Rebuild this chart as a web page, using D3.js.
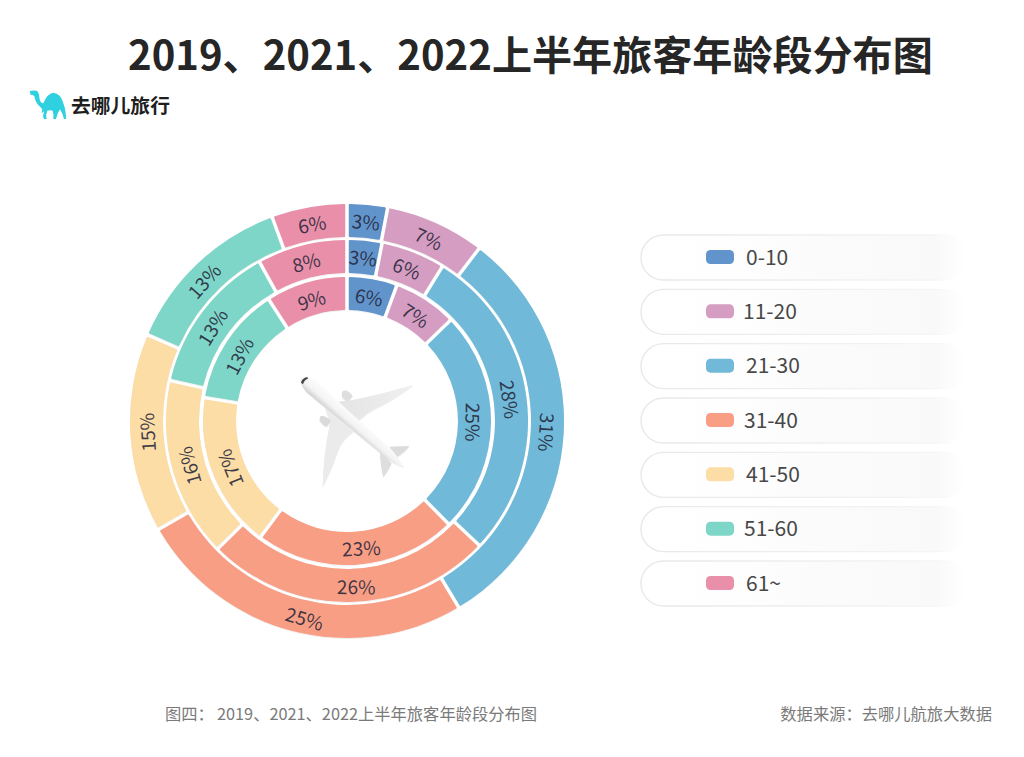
<!DOCTYPE html>
<html><head><meta charset="utf-8">
<script src="https://cdn.jsdelivr.net/npm/d3@7/dist/d3.min.js"></script>
<style>html,body{margin:0;padding:0;background:#fff}svg{display:block}text{font-family:"Noto Sans CJK SC","Noto Sans",sans-serif}</style>
</head><body><svg id="c" width="1024" height="757" viewBox="0 0 1024 757"></svg>
<script>
const categories = ["0-10","11-20","21-30","31-40","41-50","51-60","61~"];
const outerRingValues  = [3.0,7.4,31.0,25.3,14.8,12.9,5.6];
const middleRingValues = [3.1,5.7,28.2,25.6,16.0,13.4,8.0];
const innerRingValues  = [5.6,7.1,24.9,22.6,17.4,13.3,9.1];
const colors = ["#6094cb","#d69dc2","#70b9d8","#f89e85","#fcdda6","#7ed6c8","#e98fa9"];
const titleText = "2019、2021、2022上半年旅客年龄段分布图";
const captionLead = "图四：";
const captionText = "2019、2021、2022上半年旅客年龄段分布图";
const sourceText = "数据来源：去哪儿航旅大数据";
const logoText = "去哪儿旅行";

const svg = d3.select("#c");
const defs = svg.append("defs");

// ---- defs
const f = defs.append("filter").attr("id","edge").attr("x","-20%").attr("y","-20%").attr("width","140%").attr("height","140%");
f.append("feDropShadow").attr("dx",0).attr("dy",0.4).attr("stdDeviation",0.7).attr("flood-color","#000").attr("flood-opacity",0.16);
const sf = defs.append("filter").attr("id","soft").attr("x","-10%").attr("y","-10%").attr("width","120%").attr("height","120%");
sf.append("feDropShadow").attr("dx",0).attr("dy",1.5).attr("stdDeviation",1.5).attr("flood-color","#000").attr("flood-opacity",0.18);
const pf = defs.append("linearGradient").attr("id","pillFill");
[[0,"#fff"],[0.3,"#fefefe"],[0.55,"#fbfbfb"],[0.9,"#f9f9f9"],[1,"#fff"]].forEach(s=>pf.append("stop").attr("offset",s[0]).attr("stop-color",s[1]));
const ps = defs.append("linearGradient").attr("id","pillStroke");
[[0,"#e8e8e8",1],[0.6,"#f0f0f0",1],[0.9,"#f5f5f5",1],[1,"#fff",0]].forEach(s=>ps.append("stop").attr("offset",s[0]).attr("stop-color",s[1]).attr("stop-opacity",s[2]));
const fg = defs.append("linearGradient").attr("id","fus").attr("gradientUnits","userSpaceOnUse")
  .attr("x1",243).attr("y1",190).attr("x2",217).attr("y2",220);
[[0,"#fbfbfb"],[0.55,"#f3f3f3"],[1,"#cfcfcf"]].forEach(s=>fg.append("stop").attr("offset",s[0]).attr("stop-color",s[1]));
const wg = defs.append("linearGradient").attr("id","wing").attr("x1",0).attr("y1",0).attr("x2",1).attr("y2",0);
[[0,"#e4e4e4"],[1,"#f0f0f0"]].forEach(s=>wg.append("stop").attr("offset",s[0]).attr("stop-color",s[1]));

// ---- title and notes
svg.append("text").attr("x",128).attr("y",70).attr("font-size",40.1).attr("font-weight",700).attr("fill","#262626").text(titleText);
svg.append("text").attr("x",165).attr("y",719.5).attr("font-size",16.3).attr("fill","#7a7a7a").text(captionLead);
svg.append("text").attr("x",217).attr("y",719.5).attr("font-size",16.3).attr("fill","#7a7a7a").text(captionText);
svg.append("text").attr("x",992).attr("y",719.5).attr("text-anchor","end").attr("font-size",16.3).attr("fill","#7a7a7a").text(sourceText);

// ---- logo
svg.append("path").attr("transform","translate(0,70) scale(0.3333)").attr("fill","#2fd0df")
  .attr("d","M89 63 Q100 60 110 62 Q118 68 118 82 Q120 100 130 100 Q142 70 160 68 Q182 70 190 100 Q198 120 198 147 L192 147 Q188 130 180 118 Q172 128 168 147 L160 147 Q162 135 158 122 Q150 120 142 122 Q136 135 140 147 L132 147 Q126 138 133 124 L124 130 Q130 118 122 112 Q106 100 103 78 Q97 74 92 74 Z");
svg.append("text").attr("x",71).attr("y",112.5).attr("font-size",19.8).attr("font-weight",700).attr("fill","#1f1f1f").text(logoText);

// ---- rings
const cx = 347, cy = 421;
const rings = [
  {values: outerRingValues,  r0: 184, r1: 217, label: 201},
  {values: middleRingValues, r0: 148, r1: 181, label: 165},
  {values: innerRingValues,  r0: 111, r1: 144, label: 127}
];
// small nudges of the labels along the ring and of their tilt, in degrees, per category
const labelNudge = [0,0,0,-2.5,0,-2.2,0];
const tiltNudge  = [0,0,0,4,0,-3,0];
const pie = d3.pie().sort(null).value(d=>d);
const chart = svg.append("g").attr("transform",`translate(${cx},${cy})`);
rings.forEach(ring=>{
  const arc = d3.arc().innerRadius(ring.r0).outerRadius(ring.r1).padAngle(0.036).padRadius(100).cornerRadius(1);
  const g = chart.append("g");
  const arcs = pie(ring.values);
  g.selectAll("path").data(arcs).join("path")
    .attr("d",arc).attr("fill",(d,i)=>colors[i]).attr("filter","url(#edge)");
  g.selectAll("text").data(arcs).join("text")
    .attr("text-anchor","middle").attr("dominant-baseline","central")
    .attr("font-size",19).attr("fill","#26263a").attr("fill-opacity",0.88)
    .attr("transform",(d,i)=>{
      const a = (d.startAngle+d.endAngle)/2*180/Math.PI + labelNudge[i];
      const t = a*Math.PI/180;
      const x = ring.label*Math.sin(t), y = -ring.label*Math.cos(t);
      const rot = (a<=100 ? a : a<240 ? a-180 : a-360) + tiltNudge[i];
      return `translate(${x},${y}) rotate(${rot})`;
    })
    .text(d=>Math.round(d.value)+"%");
});

// ---- plane (decorative picture)
const plane = svg.append("g").attr("transform","translate(270,350) scale(0.3333)").attr("filter","url(#soft)");
plane.append("path").attr("fill","#dedede").attr("d","M218 124 Q230 116 248 138 L234 156 Q208 142 218 124Z");
plane.append("path").attr("fill","url(#wing)").attr("d","M205 155 L250 150 Q340 132 430 105 Q372 150 312 178 Q290 190 268 210 L240 205Z");
plane.append("path").attr("fill","#ebebeb").attr("d","M165 172 L250 245 Q216 270 205 300 Q185 360 158 412 Q160 320 180 218Z");
plane.append("path").attr("fill","#dadada").attr("d","M150 200 Q160 192 184 212 L170 230 Q144 218 150 200Z");
plane.append("path").attr("fill","#dcdcdc").attr("d","M358 290 L418 288 Q405 306 382 320Z");
plane.append("path").attr("fill","#dedede").attr("d","M330 305 L365 340 Q356 362 340 382 Q332 350 330 305Z");
plane.append("path").attr("fill","url(#fus)")
  .attr("d","M92 92 Q95 78 115 80 Q130 84 145 100 L370 305 Q388 328 402 352 Q370 340 345 320 L112 128 Q95 110 92 92Z");
plane.append("path").attr("fill","#444").attr("d","M93 98 Q96 84 112 81 L114 86 Q102 90 99 103Z");

// ---- legend
const legendY = d3.scalePoint().domain(categories).range([257,583]);
const legendTextX = [746,743,746,744,746,744,746];
const items = svg.append("g").selectAll("g").data(categories).join("g")
  .attr("transform",d=>`translate(0,${legendY(d)})`);
items.append("rect").attr("x",641).attr("y",-22).attr("width",326).attr("height",45).attr("rx",22.5)
  .attr("fill","url(#pillFill)").attr("stroke","url(#pillStroke)").attr("stroke-width",1.4);
items.append("rect").attr("x",706).attr("y",-7).attr("width",28).attr("height",14).attr("rx",4.5)
  .attr("fill",(d,i)=>colors[i]);
items.append("text").attr("x",(d,i)=>legendTextX[i]).attr("y",-1.5).attr("dominant-baseline","central")
  .attr("font-size",21).attr("fill","#484848").text(d=>d);
</script></body></html>
